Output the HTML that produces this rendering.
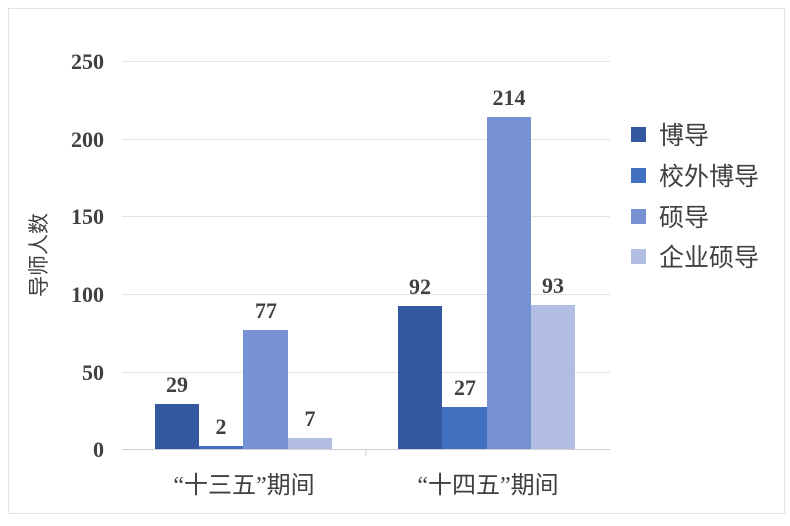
<!DOCTYPE html>
<html><head><meta charset="utf-8"><style>body{margin:0;background:#fff}</style></head><body>
<svg width="790" height="521" xmlns="http://www.w3.org/2000/svg" font-family="'Liberation Serif','Noto Serif CJK SC',serif">
<rect x="8.5" y="8.5" width="776" height="505" fill="#fff" stroke="#e2e2e2"/>
<g stroke="#e4e4e4" stroke-width="1">
<line x1="122" y1="61.5" x2="610" y2="61.5"/>
<line x1="122" y1="139.5" x2="610" y2="139.5"/>
<line x1="122" y1="216.5" x2="610" y2="216.5"/>
<line x1="122" y1="294.5" x2="610" y2="294.5"/>
<line x1="122" y1="372.5" x2="610" y2="372.5"/>
</g>
<line x1="122" y1="449.5" x2="610" y2="449.5" stroke="#d0d0d0"/>
<line x1="366" y1="449" x2="366" y2="456" stroke="#d0d0d0"/>
<g font-weight="bold" font-size="22" fill="#404040" text-anchor="end">
<text x="104" y="69">250</text><text x="104" y="147">200</text><text x="104" y="224">150</text>
<text x="104" y="302">100</text><text x="104" y="380">50</text><text x="104" y="457">0</text>
</g>
<text transform="translate(46,255) rotate(-90)" font-family="'Liberation Sans','Noto Sans CJK SC',sans-serif" font-size="21" fill="#404040" text-anchor="middle">导师人数</text>
<g>
<rect x="155" y="404" width="44" height="45" fill="#34589f"/>
<rect x="199" y="446" width="44" height="3" fill="#4270c0"/>
<rect x="243" y="330" width="45" height="119" fill="#7692d2"/>
<rect x="288" y="438" width="44" height="11" fill="#b2bde3"/>
<rect x="398" y="306" width="44" height="143" fill="#34589f"/>
<rect x="442" y="407" width="45" height="42" fill="#4270c0"/>
<rect x="487" y="117" width="44" height="332" fill="#7692d2"/>
<rect x="531" y="305" width="44" height="144" fill="#b2bde3"/>
</g>
<g font-weight="bold" font-size="22" fill="#404040" text-anchor="middle">
<text x="177" y="392">29</text><text x="221" y="434">2</text><text x="266" y="318">77</text><text x="310" y="426">7</text>
<text x="420" y="294">92</text><text x="465" y="395">27</text><text x="509" y="105">214</text><text x="553" y="293">93</text>
</g>
<g font-size="24" fill="#404040" text-anchor="middle" font-family="'Liberation Serif','Noto Sans CJK SC',serif">
<text x="244" y="493">“十三五”期间</text><text x="488" y="493">“十四五”期间</text>
</g>
<g font-family="'Liberation Sans','Noto Sans CJK SC',sans-serif" font-size="25" fill="#404040">
<rect x="631" y="127" width="15" height="15" fill="#34589f"/><text x="659" y="144">博导</text>
<rect x="631" y="168" width="15" height="15" fill="#4270c0"/><text x="659" y="185">校外博导</text>
<rect x="631" y="209" width="15" height="15" fill="#7692d2"/><text x="659" y="226">硕导</text>
<rect x="631" y="249" width="15" height="15" fill="#b2bde3"/><text x="659" y="266">企业硕导</text>
</g>
</svg>
</body></html>
